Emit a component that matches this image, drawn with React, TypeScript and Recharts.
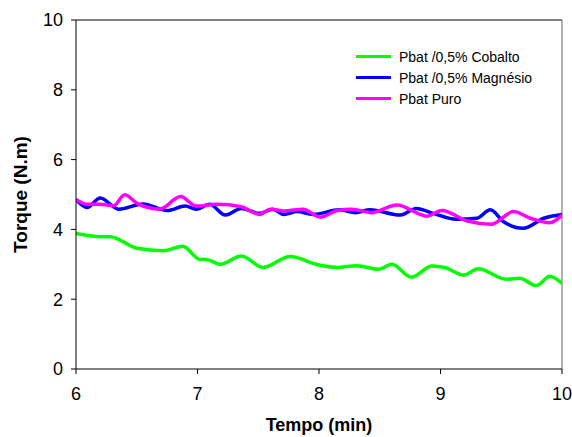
import React from 'react';
import {
  LineChart,
  Line,
  XAxis,
  YAxis,
  Legend,
  ReferenceLine,
} from 'recharts';

// valores (Torque x Tempo)
const cobaltoTempo = [6.0, 6.2, 6.28, 6.5, 6.72, 6.88, 7.02, 7.07, 7.19, 7.36, 7.54, 7.76, 8.0, 8.15, 8.31, 8.49, 8.6, 8.76, 8.93, 9.04, 9.19, 9.31, 9.54, 9.65, 9.79, 9.9, 10.0];
const cobaltoTorque = [3.88, 3.79, 3.79, 3.46, 3.39, 3.52, 3.14, 3.14, 3.0, 3.24, 2.91, 3.22, 2.98, 2.91, 2.96, 2.86, 3.0, 2.63, 2.95, 2.9, 2.69, 2.87, 2.57, 2.6, 2.39, 2.66, 2.45];

const magnesioTempo = [6.0, 6.09, 6.2, 6.35, 6.55, 6.75, 6.9, 6.99, 7.1, 7.23, 7.36, 7.51, 7.62, 7.71, 7.82, 7.95, 8.17, 8.3, 8.42, 8.67, 8.8, 8.94, 9.13, 9.3, 9.41, 9.52, 9.68, 9.85, 10.0];
const magnesioTorque = [4.86, 4.63, 4.9, 4.58, 4.73, 4.54, 4.67, 4.58, 4.72, 4.41, 4.6, 4.46, 4.58, 4.43, 4.51, 4.43, 4.56, 4.48, 4.56, 4.41, 4.6, 4.46, 4.29, 4.32, 4.56, 4.22, 4.03, 4.32, 4.43];

const puroTempo = [6.0, 6.09, 6.2, 6.31, 6.4, 6.51, 6.69, 6.86, 6.99, 7.16, 7.36, 7.51, 7.6, 7.71, 7.87, 8.01, 8.15, 8.27, 8.43, 8.64, 8.89, 9.01, 9.22, 9.42, 9.6, 9.74, 9.9, 10.0];
const puroTorque = [4.86, 4.72, 4.72, 4.68, 4.99, 4.73, 4.58, 4.94, 4.67, 4.72, 4.65, 4.43, 4.58, 4.53, 4.58, 4.35, 4.54, 4.58, 4.48, 4.7, 4.38, 4.54, 4.24, 4.15, 4.51, 4.32, 4.19, 4.41];

const xTicks = [6, 7, 8, 9, 10];
const yTicks = [0, 2, 4, 6, 8, 10];

const FONT = '"Liberation Sans", Arial, sans-serif';

const toPoints = (tempo: number[], torque: number[]) =>
  tempo.map((t, i) => ({ tempo: t, torque: torque[i] }));

const series = [
  { name: 'Pbat /0,5% Cobalto', color: '#00ff00', data: toPoints(cobaltoTempo, cobaltoTorque) },
  { name: 'Pbat /0,5% Magnésio', color: '#0000ff', data: toPoints(magnesioTempo, magnesioTorque) },
  { name: 'Pbat Puro', color: '#ff00ff', data: toPoints(puroTempo, puroTorque) },
];

function LegendBox() {
  return (
    <div style={{ fontFamily: FONT, fontSize: 14, color: '#000' }}>
      {series.map((s) => (
        <div key={s.name} style={{ display: 'flex', alignItems: 'center', height: 21 }}>
          <span style={{ display: 'inline-block', width: 35, height: 3, background: s.color, marginRight: 8 }} />
          <span>{s.name}</span>
        </div>
      ))}
    </div>
  );
}

export default function App() {
  return (
    <div style={{ position: 'absolute', left: 0, top: 0, width: 572, height: 437, background: '#fff' }}>
      <LineChart width={572} height={437} margin={{ top: 20, right: 10, left: 0, bottom: 0 }}>
        <XAxis
          dataKey="tempo"
          type="number"
          domain={[6, 10]}
          ticks={xTicks}
          allowDataOverflow
          height={68}
          stroke="#000"
          tickSize={5}
          tickMargin={13}
          tick={{ fill: '#000', fontSize: 18, fontFamily: FONT }}
          label={{ value: 'Tempo (min)', position: 'insideBottom', offset: 6, fill: '#000', fontSize: 18, fontWeight: 'bold', fontFamily: FONT }}
        />
        <YAxis
          dataKey="torque"
          type="number"
          domain={[0, 10]}
          ticks={yTicks}
          width={76}
          stroke="#000"
          tickSize={5}
          tickMargin={8}
          tick={{ fill: '#000', fontSize: 18, fontFamily: FONT }}
          label={{ value: 'Torque (N.m)', angle: -90, position: 'insideLeft', offset: 20, fill: '#000', fontSize: 19, fontWeight: 'bold', fontFamily: FONT, style: { textAnchor: 'middle' } }}
        />
        <ReferenceLine y={10} stroke="#000" strokeWidth={1} />
        <ReferenceLine x={10} stroke="#666" strokeWidth={1} />
        {series.map((s) => (
          <Line
            key={s.name}
            data={s.data}
            dataKey="torque"
            name={s.name}
            type="monotone"
            stroke={s.color}
            strokeWidth={3.5}
            dot={false}
            isAnimationActive={false}
          />
        ))}
        <Legend
          layout="vertical"
          align="center"
          verticalAlign="middle"
          content={() => <LegendBox />}
          wrapperStyle={{ left: 356, top: 46, width: 210 }}
        />
      </LineChart>
    </div>
  );
}
